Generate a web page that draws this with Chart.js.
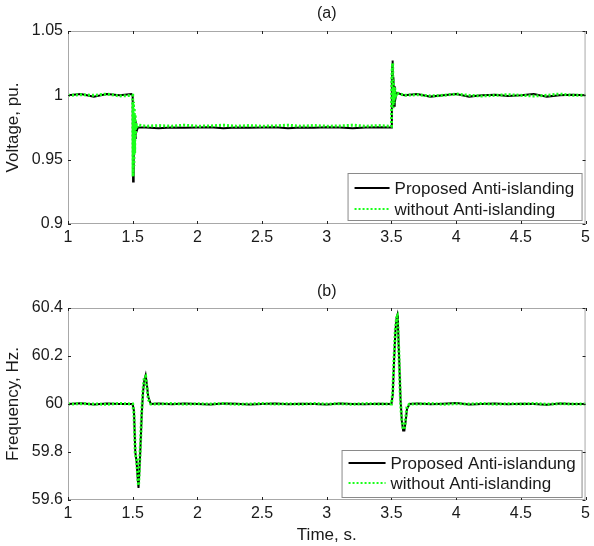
<!DOCTYPE html>
<html>
<head>
<meta charset="utf-8">
<script src="https://cdn.jsdelivr.net/npm/chart.js@4.4.0/dist/chart.umd.min.js"></script>
<style>
  body { margin: 0; background: #fff; }
  #wrap { position: relative; width: 594px; height: 546px; }
  canvas { position: absolute; left: 0; }
</style>
</head>
<body>
<div id="wrap">
  <canvas id="chartA" width="594" height="273" style="top:0"></canvas>
  <canvas id="chartB" width="594" height="273" style="top:273px"></canvas>
</div>
<script>
// (a) voltage, pu.
const timeV = [1.0, 1.1, 1.2, 1.3, 1.4, 1.49,
  1.5, 1.503, 1.506, 1.509, 1.512, 1.515, 1.518, 1.521, 1.525, 1.53, 1.54,
  1.6, 1.7, 1.8, 1.9, 2.0, 2.1, 2.2, 2.3, 2.4, 2.5, 2.6, 2.7, 2.8, 2.9, 3.0, 3.1, 3.2, 3.3, 3.4,
  3.49, 3.5, 3.503, 3.506, 3.509, 3.512, 3.515, 3.52, 3.525, 3.53, 3.54,
  3.6, 3.7, 3.8, 3.9, 4.0, 4.1, 4.2, 4.3, 4.4, 4.5, 4.6, 4.7, 4.8, 4.9, 5.0];
const voltProposed = [1.000, 1.001, 0.999, 1.001, 1.000, 1.001,
  1.000, 0.933, 0.985, 0.948, 0.984, 0.958, 0.980, 0.966, 0.977, 0.972, 0.975,
  0.975, 0.9745, 0.975, 0.9748, 0.975, 0.9752, 0.9745, 0.975, 0.9748, 0.975, 0.9752, 0.9745, 0.975, 0.9748, 0.9752, 0.975, 0.9745, 0.975, 0.9752,
  0.975, 0.975, 1.012, 1.022, 1.027, 0.992, 1.014, 0.992, 1.007, 0.997, 1.002,
  1.000, 1.001, 0.999, 1.000, 1.001, 0.999, 1.000, 1.0005, 0.9995, 1.000, 1.001, 0.999, 1.000, 1.0005, 1.000];
const voltWithout = [1.000, 1.0005, 1.000, 1.001, 0.9995, 1.000,
  1.000, 0.937, 0.995, 0.945, 0.990, 0.955, 0.985, 0.968, 0.979, 0.975, 0.977,
  0.976, 0.9765, 0.976, 0.9768, 0.976, 0.9762, 0.9768, 0.976, 0.9765, 0.976, 0.9762, 0.9768, 0.976, 0.9765, 0.976, 0.9762, 0.9768, 0.976, 0.9765,
  0.976, 0.976, 1.010, 1.020, 1.025, 0.990, 1.012, 0.994, 1.006, 0.998, 1.002,
  1.000, 1.0005, 0.9995, 1.000, 1.001, 1.000, 0.9995, 1.000, 1.0005, 1.000, 0.9995, 1.000, 1.001, 1.000, 1.000];

// (b) frequency, Hz.
const timeF = [1.0, 1.1, 1.2, 1.3, 1.4,
  1.5, 1.51, 1.52, 1.53, 1.54, 1.545, 1.55, 1.56, 1.57, 1.58, 1.59, 1.6, 1.61, 1.62, 1.64,
  1.7, 1.8, 1.9, 2.0, 2.1, 2.2, 2.3, 2.4, 2.5, 2.6, 2.7, 2.8, 2.9, 3.0, 3.1, 3.2, 3.3, 3.4,
  3.5, 3.51, 3.52, 3.53, 3.54, 3.545, 3.55, 3.56, 3.57, 3.58, 3.59, 3.6, 3.61, 3.62, 3.64,
  3.7, 3.8, 3.9, 4.0, 4.1, 4.2, 4.3, 4.4, 4.5, 4.6, 4.7, 4.8, 4.9, 5.0];
const freqProposed = [60.000, 60.003, 59.998, 60.002, 60.000,
  60.000, 59.97, 59.80, 59.76, 59.68, 59.65, 59.70, 59.82, 59.96, 60.05, 60.10, 60.12, 60.08, 60.03, 60.000,
  60.002, 59.999, 60.002, 60.000, 59.998, 60.002, 60.001, 59.998, 60.000, 60.002, 59.999, 60.001, 60.000, 59.998, 60.002, 60.000, 59.999, 60.001,
  60.000, 60.04, 60.18, 60.30, 60.36, 60.37, 60.33, 60.18, 60.02, 59.93, 59.89, 59.89, 59.93, 59.98, 60.000,
  60.002, 59.999, 60.001, 60.004, 59.998, 60.000, 60.002, 59.999, 60.001, 60.000, 59.997, 60.002, 60.000, 60.000];
const freqWithout = [60.000, 60.001, 60.000, 59.999, 60.002,
  60.000, 59.96, 59.79, 59.77, 59.69, 59.66, 59.71, 59.83, 59.97, 60.06, 60.11, 60.115, 60.07, 60.02, 60.000,
  60.000, 60.002, 59.999, 60.001, 60.000, 60.002, 59.999, 60.000, 60.002, 60.000, 60.001, 59.999, 60.002, 60.000, 60.001, 59.999, 60.002, 60.000,
  60.000, 60.05, 60.19, 60.31, 60.36, 60.365, 60.32, 60.17, 60.01, 59.93, 59.90, 59.895, 59.94, 59.99, 60.000,
  60.000, 60.002, 59.999, 60.001, 60.000, 60.002, 59.999, 60.001, 60.000, 60.002, 59.999, 60.001, 60.000, 60.000];

const labelsA = ['Proposed Anti-islanding', 'without Anti-islanding'];
const labelsB = ['Proposed Anti-islandung', 'without Anti-islanding'];

const FONT = "'Liberation Sans', Arial, sans-serif";
const TEXT = '#1a1a1a';

// grey box round the plot area with small inward tick marks on all four sides
const framePlugin = {
  id: 'frame',
  afterDatasetsDraw(chart) {
    const { ctx, chartArea: a, scales: { x, y } } = chart;
    ctx.save();
    ctx.strokeStyle = '#a8a8a8';
    ctx.lineWidth = 1;
    ctx.strokeRect(a.left + 0.5, a.top + 0.5, a.right - a.left - 1, a.bottom - a.top - 1);
    ctx.strokeStyle = '#222';
    ctx.beginPath();
    x.ticks.forEach(t => {
      const px = Math.round(x.getPixelForValue(t.value)) + 0.5;
      ctx.moveTo(px, a.top); ctx.lineTo(px, a.top + 3);
      ctx.moveTo(px, a.bottom); ctx.lineTo(px, a.bottom - 3);
    });
    y.ticks.forEach(t => {
      const py = Math.round(y.getPixelForValue(t.value)) + 0.5;
      ctx.moveTo(a.left, py); ctx.lineTo(a.left + 3, py);
      ctx.moveTo(a.right, py); ctx.lineTo(a.right - 3, py);
    });
    ctx.stroke();
    ctx.restore();
  }
};

// boxed legend in the lower right corner of the plot area
const boxLegendPlugin = {
  id: 'boxLegend',
  afterDraw(chart, args, opts) {
    const { ctx, chartArea: a } = chart;
    const right = a.right - opts.right, bottom = a.bottom - opts.bottom;
    const left = right - opts.width, top = bottom - opts.height;
    ctx.save();
    ctx.fillStyle = '#fff';
    ctx.fillRect(left, top, opts.width, opts.height);
    ctx.strokeStyle = '#8a8a8a';
    ctx.lineWidth = 1;
    ctx.strokeRect(left + 0.5, top + 0.5, opts.width, opts.height);
    ctx.font = '17px ' + FONT;
    ctx.textBaseline = 'middle';
    ctx.fillStyle = TEXT;
    chart.data.datasets.slice().sort((p, q) => p.legendIndex - q.legendIndex).forEach((ds, i) => {
      const cy = top + opts.rowTop + i * opts.rowGap;
      ctx.save();
      ctx.strokeStyle = ds.borderColor;
      ctx.lineWidth = ds.legendWidth;
      ctx.setLineDash(ds.borderDash || []);
      ctx.beginPath();
      ctx.moveTo(left + 7, cy);
      ctx.lineTo(left + opts.sample, cy);
      ctx.stroke();
      ctx.restore();
      ctx.fillText(ds.label, left + opts.sample + 5, cy + 1);
    });
    ctx.restore();
  }
};

function series(times, values) {
  return times.map((t, i) => ({ x: t, y: values[i] }));
}

function makeChart(id, cfg) {
  return new Chart(document.getElementById(id), {
    type: 'line',
    data: {
      datasets: [{
        label: cfg.labels[1],
        legendIndex: 1,
        legendWidth: 2,
        data: series(cfg.times, cfg.without),
        borderColor: '#19ff19',
        borderWidth: 3,
        borderDash: [2, 2],
        pointRadius: 0,
        tension: 0,
        order: 0
      }, {
        label: cfg.labels[0],
        legendIndex: 0,
        legendWidth: 2,
        data: series(cfg.times, cfg.proposed),
        borderColor: '#000',
        borderWidth: 2,
        pointRadius: 0,
        tension: 0,
        order: 1
      }]
    },
    options: {
      responsive: false,
      animation: false,
      layout: { padding: { left: 0, right: 7, top: 0, bottom: 0 } },
      plugins: {
        legend: { display: false },
        tooltip: { enabled: false },
        title: {
          display: true,
          fullSize: false,
          text: cfg.title,
          color: TEXT,
          font: { family: FONT, size: 16, weight: 'normal' },
          padding: cfg.titlePad
        },
        boxLegend: cfg.legend
      },
      scales: {
        x: {
          type: 'linear',
          min: 1, max: 5,
          grid: { display: false, drawTicks: false },
          border: { display: false },
          ticks: {
            stepSize: 0.5, maxRotation: 0, autoSkip: false, padding: 4,
            color: TEXT, font: { family: FONT, size: 16 },
            callback: v => String(+v.toFixed(1))
          },
          title: {
            display: !!cfg.xTitle,
            text: cfg.xTitle || '',
            color: TEXT,
            font: { family: FONT, size: 17 },
            padding: { top: 2, bottom: 0 }
          },
          afterFit: s => { s.height = cfg.xHeight; }
        },
        y: {
          min: cfg.yMin, max: cfg.yMax,
          grid: { display: false, drawTicks: false },
          border: { display: false },
          ticks: {
            stepSize: cfg.yStep, padding: 5,
            color: TEXT, font: { family: FONT, size: 16 },
            callback: v => String(+v.toFixed(2))
          },
          title: {
            display: true,
            text: cfg.yTitle,
            color: TEXT,
            font: { family: FONT, size: 17 },
            padding: { top: 3, bottom: 0 }
          },
          afterFit: s => { s.width = 68; }
        }
      }
    },
    plugins: [framePlugin, boxLegendPlugin]
  });
}

makeChart('chartA', {
  times: timeV, proposed: voltProposed, without: voltWithout, labels: labelsA,
  title: '(a)', titlePad: { top: 4, bottom: 7.8 },
  yTitle: 'Voltage, pu.', yMin: 0.9, yMax: 1.05, yStep: 0.05,
  xHeight: 49,
  legend: { right: 4, bottom: 4, width: 234, height: 47, rowTop: 15, rowGap: 21, sample: 42 }
});

makeChart('chartB', {
  times: timeF, proposed: freqProposed, without: freqWithout, labels: labelsB,
  title: '(b)', titlePad: { top: 9.4, bottom: 6.4 },
  yTitle: 'Frequency, Hz.', yMin: 59.6, yMax: 60.4, yStep: 0.2,
  xTitle: 'Time, s.', xHeight: 46,
  legend: { right: 4, bottom: 3, width: 240, height: 47, rowTop: 13, rowGap: 20, sample: 44 }
});
</script>
</body>
</html>
